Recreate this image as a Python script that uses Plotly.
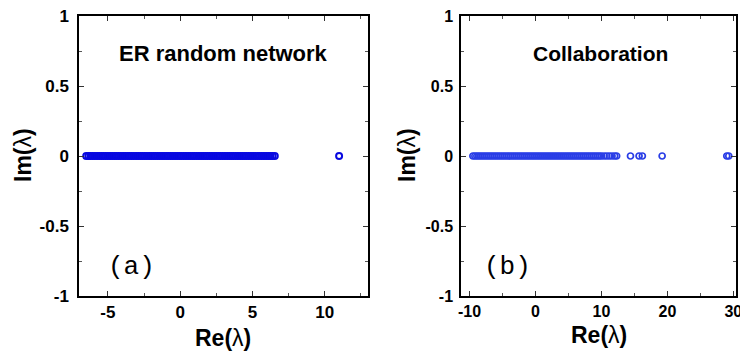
import plotly.graph_objects as go

# Eigenvalue spectra (real parts; imaginary parts all zero)
er_re = [-6.5, -6.35, -6.2, -6.05, -5.9, -5.75, -5.6, -5.45, -5.3, -5.15, -5.0, -4.85,
         -4.7, -4.55, -4.4, -4.25, -4.1, -3.95, -3.8, -3.65, -3.5, -3.35, -3.2, -3.05,
         -2.9, -2.75, -2.6, -2.45, -2.3, -2.15, -2.0, -1.85, -1.7, -1.55, -1.4, -1.25,
         -1.1, -0.95, -0.8, -0.65, -0.5, -0.35, -0.2, -0.05, 0.1, 0.25, 0.4, 0.55, 0.7,
         0.85, 1.0, 1.15, 1.3, 1.45, 1.6, 1.75, 1.9, 2.05, 2.2, 2.35, 2.5, 2.65, 2.8,
         2.95, 3.1, 3.25, 3.4, 3.55, 3.7, 3.85, 4.0, 4.15, 4.3, 4.45, 4.6, 4.75, 4.9,
         5.05, 5.2, 5.35, 5.5, 5.65, 5.8, 5.95, 6.1, 6.25, 6.4, 6.55, 11.0]
er_im = [0.0] * len(er_re)

collab_re = [-9.5, -9.2, -8.9, -8.6, -8.3, -8.0, -7.7, -7.4, -7.1, -6.8, -6.5, -6.2,
             -5.9, -5.6, -5.3, -5.0, -4.7, -4.4, -4.1, -3.8, -3.5, -3.2, -2.9, -2.6,
             -2.3, -2.0, -1.7, -1.4, -1.1, -0.8, -0.5, -0.2, 0.1, 0.4, 0.7, 1.0, 1.3,
             1.6, 1.9, 2.2, 2.5, 2.8, 3.1, 3.4, 3.7, 4.0, 4.3, 4.6, 4.9, 5.2, 5.5, 5.8,
             6.1, 6.4, 6.7, 7.0, 7.3, 7.6, 7.9, 8.2, 8.5, 8.8, 9.1, 9.4, 9.7, 10.0, 10.4,
             10.8, 11.2, 11.6, 12.0, 12.3, 14.4, 15.7, 16.2, 19.2, 29.0, 29.3]
collab_im = [0.0] * len(collab_re)

y_ticks = [1, 0.5, 0, -0.5, -1]
y_ticktext = ["1", "0.5", "0", "-0.5", "-1"]
er_xticks = [-5, 0, 5, 10]
er_xticktext = ["-5", "0", "5", "10"]
collab_xticks = [-10, 0, 10, 20, 30]
collab_xticktext = ["-10", "0", "10", "20", "30"]

# the page body has an 8px margin, so the figure is 8px smaller than the window
W, H = 740, 347
font = "Liberation Sans, Arial, Helvetica, sans-serif"
mono = "Liberation Mono, Courier New, monospace"

fig = go.Figure()
fig.add_trace(go.Scatter(x=er_re, y=er_im, mode="markers", xaxis="x", yaxis="y",
                         marker=dict(symbol="circle-open", size=6, color="#0808e0",
                                     line=dict(width=2, color="#0808e0")),
                         showlegend=False))
fig.add_trace(go.Scatter(x=collab_re, y=collab_im, mode="markers", xaxis="x2", yaxis="y2",
                         marker=dict(symbol="circle-open", size=6, color="#2a3ee6",
                                     line=dict(width=1.7, color="#2a3ee6")),
                         showlegend=False))

ydom = [1 - 288 / H, 1 - 8 / H]
common = dict(showline=True, linecolor="black", linewidth=1.5, mirror="allticks",
              ticks="inside", ticklen=5, tickwidth=1.2, tickcolor="#333",
              showgrid=False, zeroline=False, automargin=False,
              ticklabeloverflow="allow")
minor = dict(ticks="inside", ticklen=3, tickcolor="#555", tick0=0)
tf_a = dict(family=font, size=17, color="black", weight="bold")
tf_b = dict(family=font, size=16, color="black", weight="bold")

fig.update_layout(
    width=W, height=H,
    margin=dict(l=0, r=0, t=0, b=0),
    paper_bgcolor="white", plot_bgcolor="white",
    font=dict(family=font, color="black"),
    xaxis=dict(domain=[71 / W, 360 / W], range=[-7, 13], tickvals=er_xticks,
               ticktext=er_xticktext, anchor="y", tickfont=tf_a,
               minor=dict(dtick=2.5, **minor), **common),
    yaxis=dict(domain=ydom, range=[-1, 1], tickvals=y_ticks, ticktext=y_ticktext,
               anchor="x", ticklabelstandoff=5, tickfont=tf_a,
               minor=dict(dtick=0.25, **minor), **common),
    xaxis2=dict(domain=[453 / W, 728 / W], range=[-11.3, 30.4], tickvals=collab_xticks,
                ticktext=collab_xticktext, anchor="y2", tickfont=tf_b,
                minor=dict(dtick=5, **minor), **common),
    yaxis2=dict(domain=ydom, range=[-1, 1], tickvals=y_ticks, ticktext=y_ticktext,
                anchor="x2", ticklabelstandoff=3, tickfont=tf_b,
                minor=dict(dtick=0.25, **minor), **common),
)

labels = [
    ("<b>ER random network</b>", 3.0, 0.73, "x", "y", 22, font),
    ("<b>Collaboration</b>", 9.8, 0.73, "x2", "y2", 21, font),
    ("(a)", -3.4, -0.79, "x", "y", 26, mono),
    ("(b)", -4.2, -0.79, "x2", "y2", 26, mono),
]
for text, x, y, xr, yr, size, fam in labels:
    fig.add_annotation(text=text, x=x, y=y, xref=xr, yref=yr, showarrow=False,
                       font=dict(family=fam, size=size, color="black"))

# axis titles (positions in figure pixels)
for xc, yc in ((215, 330), (591, 327)):
    fig.add_annotation(text="<b>Re(</b>λ<b>)</b>", x=xc / W, y=1 - yc / H,
                       xanchor="center", yanchor="middle",
                       xref="paper", yref="paper", showarrow=False,
                       font=dict(family=font, size=23, color="black"))
fig.add_annotation(text="<b>Im(</b>λ<b>)</b>", x=0, y=1 - 147 / H,
                   xanchor="left", yanchor="middle",
                   xref="paper", yref="paper", textangle=-90, showarrow=False,
                   font=dict(family=font, size=23, color="black"))
fig.add_annotation(text="<b>Im(</b>λ<b>)</b>", x=399 / W, y=1 - 147 / H,
                   xanchor="center", yanchor="middle",
                   xref="paper", yref="paper", textangle=-90, showarrow=False,
                   font=dict(family=font, size=23, color="black"))

fig.write_html("out.html")
